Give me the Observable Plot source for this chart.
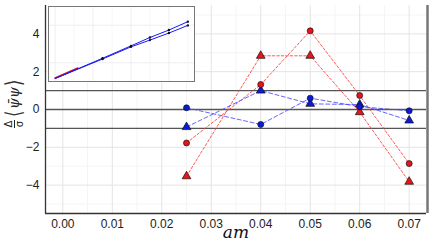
<!DOCTYPE html>
<html><head><meta charset="utf-8">
<script src="https://cdn.jsdelivr.net/npm/d3@7"></script>
<script src="https://cdn.jsdelivr.net/npm/@observablehq/plot@0.6"></script>
<style>
body{margin:0;background:#fff;}
#wrap{position:relative;width:436px;height:243px;overflow:hidden;font-family:"Liberation Sans",Arial,sans-serif;}
#wrap svg{position:absolute;}
#ylab{position:absolute;left:14px;top:103px;transform:translate(-50%,-50%) rotate(-90deg);white-space:nowrap;display:flex;align-items:center;color:#222;}
.frac{display:inline-flex;flex-direction:column;align-items:center;font:10px "DejaVu Sans",sans-serif;line-height:9px;margin-right:2px;}
.frac .bar{display:block;width:8px;height:1px;background:#222;margin:0.5px 0;}
.br{font:300 22px "DejaVu Sans",sans-serif;display:inline-block;transform:scaleX(0.75);line-height:20px;color:#333;}
.psi{font:italic 14px "DejaVu Serif",serif;}
#xlab{position:absolute;left:236px;top:222px;transform:translateX(-50%);font:italic 17px "DejaVu Serif",serif;color:#111;line-height:20px;}
</style></head>
<body>
<div id="wrap"></div>
<script>
// data
const amValues = [0.025, 0.04, 0.05, 0.06, 0.07];
const redCircle = [-1.77, 1.32, 4.16, 0.74, -2.86];
const redTriangle = [-3.53, 2.84, 2.84, -0.14, -3.82];
const blueCircle = [0.09, -0.79, 0.6, 0.15, -0.07];
const blueTriangle = [-0.93, 1.0, 0.3, 0.26, -0.58];
const refLines = [-1, 0, 1];
const xTicks = [0, 0.01, 0.02, 0.03, 0.04, 0.05, 0.06, 0.07];
const xMinor = [0.005, 0.015, 0.025, 0.035, 0.045, 0.055, 0.065];
const yTicks = [-4, -2, 0, 2, 4];
const yMinor = [-5, -3, -1, 1, 3, 5];
const xDomain = [-0.0035, 0.0735];
const yDomain = [-5.5, 5.5];

// inset data
const insetX = [0.025, 0.04, 0.05, 0.06, 0.07];
const insetA = [0.31, 0.475, 0.587, 0.686, 0.798];
const insetB = [0.30, 0.462, 0.552, 0.646, 0.748];
const insetStart = {x: 0, y: 0.04};
const insetRedEnd = {x: 0.012, y: 0.172};

const series = [
  {name: "redCircle", vals: redCircle, color: "red", sym: "circle"},
  {name: "redTriangle", vals: redTriangle, color: "red", sym: "triangle"},
  {name: "blueCircle", vals: blueCircle, color: "blue", sym: "circle"},
  {name: "blueTriangle", vals: blueTriangle, color: "blue", sym: "triangle"}
];
const rows = series.flatMap(s => amValues.map((x, i) => ({x, y: s.vals[i], s: s.name, color: s.color, sym: s.sym})));
const fillC = {red: "#e8141a", blue: "#0a1ad8"};
const lineC = {red: "#ff3b3b", blue: "#4a4aff"};

const main = Plot.plot({
  width: 436, height: 243,
  marginLeft: 45, marginRight: 10, marginTop: 5, marginBottom: 30,
  x: {domain: xDomain, ticks: xTicks, tickFormat: d3.format(".2f"), label: null},
  y: {domain: yDomain, ticks: yTicks, label: null},
  style: {fontSize: "12px", fontFamily: "Liberation Sans, Arial, sans-serif", color: "#222", background: "transparent"},
  marks: [
    Plot.gridX(xMinor, {stroke: "#f4f4f4", strokeOpacity: 1}),
    Plot.gridY(yMinor, {stroke: "#f4f4f4", strokeOpacity: 1}),
    Plot.gridX(xTicks, {stroke: "#e4e4e4", strokeOpacity: 1}),
    Plot.gridY(yTicks, {stroke: "#e4e4e4", strokeOpacity: 1}),
    Plot.ruleY(refLines, {stroke: "#555", strokeWidth: 1.3}),
    Plot.axisX({ticks: xTicks, tickFormat: d3.format(".2f"), tickSize: 0, tickPadding: 6, fill: "#222"}),
    Plot.axisY({ticks: yTicks, tickSize: 0, tickPadding: 6, fill: "#222"}),
    Plot.ruleX([xDomain[0]], {stroke: "#333", strokeWidth: 1.3}),
    Plot.ruleY([yDomain[0]], {stroke: "#333", strokeWidth: 1.3}),
    Plot.ruleX([xDomain[1]], {stroke: "#777", strokeWidth: 2.5, dx: 1}),
    Plot.line(rows.filter(d => d.color === "red"), {x: "x", y: "y", z: "s", stroke: lineC.red, strokeWidth: 1, strokeDasharray: "2.5,2", strokeOpacity: 0.85}),
    Plot.line(rows.filter(d => d.color === "blue"), {x: "x", y: "y", z: "s", stroke: lineC.blue, strokeWidth: 1, strokeDasharray: "4,2.5", strokeOpacity: 0.85}),
    Plot.dot(rows, {x: "x", y: "y", symbol: "sym", r: d => d.sym === "triangle" ? 4.2 : 3.6, fill: d => fillC[d.color], stroke: "#111", strokeWidth: 0.7})
  ]
});
main.style.left = "0px"; main.style.top = "0px";

const lineA = [insetStart, ...insetX.map((x, i) => ({x, y: insetA[i]}))];
const lineB = [insetStart, ...insetX.map((x, i) => ({x, y: insetB[i]}))];
const dotsI = [...insetX.map((x, i) => ({x, y: insetA[i]})), ...insetX.map((x, i) => ({x, y: insetB[i]}))];

const inset = Plot.plot({
  width: 148, height: 77,
  marginLeft: 1, marginRight: 1, marginTop: 1, marginBottom: 1,
  x: {domain: xDomain, axis: null},
  y: {domain: [0, 1], axis: null},
  style: {background: "#fff"},
  marks: [
    Plot.gridX([0, 0.02, 0.04, 0.06], {stroke: "#eeeeee", strokeOpacity: 1}),
    Plot.gridY([0.25, 0.75], {stroke: "#eeeeee", strokeOpacity: 1}),
    Plot.gridX([0.01, 0.03, 0.05, 0.07], {stroke: "#f6f6f6", strokeOpacity: 1}),
    Plot.line([insetStart, insetRedEnd], {x: "x", y: "y", stroke: "#e01010", strokeWidth: 1.6, dy: -0.6}),
    Plot.line(lineA, {x: "x", y: "y", stroke: "#1a1aee", strokeWidth: 1}),
    Plot.line(lineB, {x: "x", y: "y", stroke: "#1a1aee", strokeWidth: 1}),
    Plot.dot(dotsI, {x: "x", y: "y", r: 1.2, fill: "#111"}),
    Plot.frame({stroke: "#777", strokeWidth: 1})
  ]
});
inset.style.left = "47px"; inset.style.top = "5px";

const wrap = document.getElementById("wrap");
wrap.appendChild(main);
wrap.appendChild(inset);

const ylab = document.createElement("div");
ylab.id = "ylab";
ylab.innerHTML = '<span class="frac"><span>Δ</span><span class="bar"></span><span>σ</span></span><span class="br">⟨</span><span class="psi">ψ̄ψ</span><span class="br">⟩</span>';
wrap.appendChild(ylab);
const xlab = document.createElement("div");
xlab.id = "xlab";
xlab.textContent = "am";
wrap.appendChild(xlab);
</script>
</body></html>
